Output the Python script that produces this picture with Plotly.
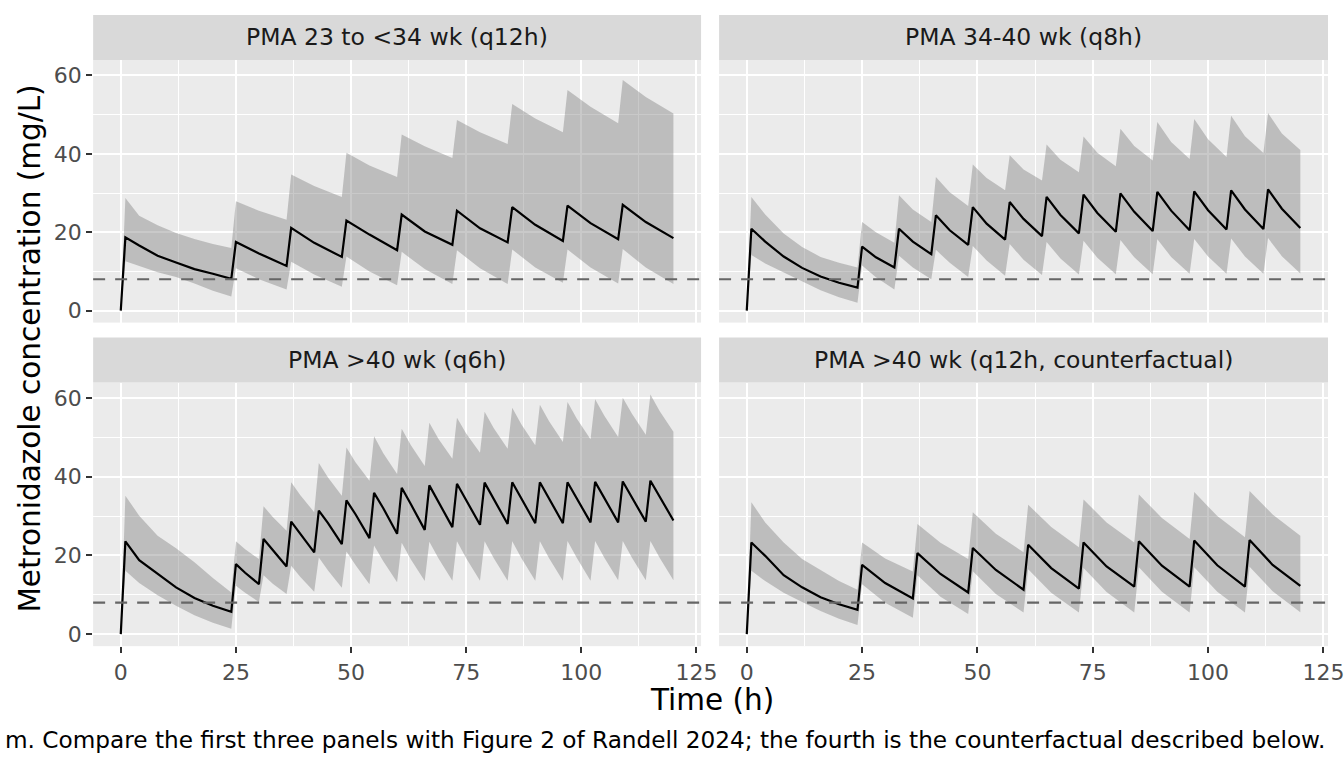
import plotly.graph_objects as go

# time grids (h) of the simulated profiles
t_q12 = [0, 1, 4, 8, 12, 16, 20, 24,
         25, 30, 36, 37, 42, 48, 49, 54, 60, 61, 66, 72,
         73, 78, 84, 85, 90, 96, 97, 102, 108, 109, 114, 120]
t_q8 = [0, 1, 4, 8, 12, 16, 20, 24,
        25, 28, 32, 33, 36, 40, 41, 44, 48, 49, 52, 56,
        57, 60, 64, 65, 68, 72, 73, 76, 80, 81, 84, 88,
        89, 92, 96, 97, 100, 104, 105, 108, 112, 113, 116, 120]
t_q6 = [0, 1, 4, 8, 12, 16, 20, 24,
        25, 27, 30, 31, 33, 36, 37, 39, 42, 43, 45, 48,
        49, 51, 54, 55, 57, 60, 61, 63, 66, 67, 69, 72,
        73, 75, 78, 79, 81, 84, 85, 87, 90, 91, 93, 96,
        97, 99, 102, 103, 105, 108, 109, 111, 114, 115, 117, 120]

# PMA 23 to <34 wk (q12h)
mid_p1 = [0, 18.7, 16.6, 14.0, 12.3, 10.6, 9.4, 8.1,
          17.5, 14.6, 11.4, 21.1, 17.3, 13.7, 23.0, 19.4, 15.4, 24.5, 20.2, 16.8,
          25.5, 21.0, 17.4, 26.4, 21.9, 17.8, 26.8, 22.3, 18.2, 27.0, 22.6, 18.5]
lo_p1 = [0, 12.6, 11.3, 9.8, 8.6, 6.9, 5.1, 3.6,
         10.8, 8.0, 5.4, 12.5, 9.2, 6.1, 13.8, 10.0, 6.5, 15.0, 10.6, 6.8,
         15.4, 10.8, 6.8, 15.6, 11.0, 7.1, 15.6, 11.0, 6.9, 15.7, 11.0, 6.8]
hi_p1 = [0, 28.7, 24.2, 21.8, 19.8, 18.3, 17.0, 16.0,
         27.9, 25.5, 23.2, 34.7, 31.8, 29.0, 40.3, 37.0, 34.1, 44.9, 41.9, 38.9,
         48.6, 45.5, 42.5, 52.7, 49.0, 45.5, 56.3, 52.0, 47.8, 58.8, 54.5, 50.3]

# PMA 34-40 wk (q8h)
mid_p2 = [0, 20.9, 17.6, 13.8, 10.9, 8.7, 7.1, 5.9,
          16.3, 13.6, 11.0, 20.9, 17.6, 14.4, 24.3, 20.5, 16.8, 26.4, 22.2, 18.1,
          27.7, 23.4, 19.0, 29.0, 24.4, 19.7, 29.6, 24.9, 20.1, 29.9, 25.2, 20.3,
          30.3, 25.5, 20.5, 30.4, 25.6, 20.7, 30.7, 25.8, 20.8, 30.9, 26.0, 21.1]
lo_p2 = [0, 14.2, 12.0, 9.6, 7.4, 5.2, 3.4, 2.0,
         11.5, 8.5, 5.4, 14.0, 11.0, 8.0, 15.5, 12.2, 8.6, 16.5, 12.8, 8.9,
         17.0, 13.0, 9.1, 17.5, 13.3, 9.2, 17.8, 13.5, 9.3, 18.0, 13.6, 9.3,
         18.2, 13.7, 9.4, 18.3, 13.8, 9.4, 18.4, 13.8, 9.4, 18.5, 13.9, 9.5]
hi_p2 = [0, 29.0, 24.5, 19.7, 16.2, 13.7, 12.2, 11.0,
         22.6, 20.0, 17.3, 29.4, 25.8, 22.6, 34.1, 30.2, 26.7, 37.3, 33.8, 30.7,
         39.6, 36.0, 33.2, 42.4, 38.5, 35.3, 44.4, 40.3, 36.8, 46.4, 42.0, 38.3,
         48.1, 43.0, 38.7, 48.9, 43.7, 39.2, 49.7, 44.5, 40.2, 50.4, 45.2, 41.0]

# PMA >40 wk (q6h)
mid_p3 = [0, 23.6, 18.8, 15.3, 11.9, 9.2, 7.2, 5.7,
          17.8, 15.6, 12.7, 24.2, 21.4, 17.2, 28.6, 25.5, 20.8, 31.4, 28.2, 22.9,
          34.0, 30.4, 24.4, 35.9, 32.0, 25.5, 37.2, 33.0, 26.5, 37.8, 33.6, 27.2,
          38.2, 34.0, 27.8, 38.5, 34.3, 28.0, 38.6, 34.4, 28.2, 38.6, 34.5, 28.2,
          38.6, 34.5, 28.4, 38.7, 34.6, 28.4, 38.8, 34.7, 28.6, 39.0, 34.9, 28.9]
lo_p3 = [0, 16.1, 13.0, 9.9, 7.2, 4.8, 2.9, 1.4,
         12.3, 10.5, 8.2, 15.0, 12.8, 10.2, 17.4, 14.5, 10.8, 19.5, 16.2, 11.8,
         21.0, 17.5, 12.7, 22.5, 18.5, 13.2, 23.2, 19.0, 13.5, 23.5, 19.2, 13.6,
         23.6, 19.3, 13.6, 23.6, 19.3, 13.6, 23.6, 19.3, 13.6, 23.6, 19.3, 13.6,
         23.7, 19.4, 13.6, 23.7, 19.4, 13.7, 23.7, 19.4, 13.7, 23.7, 19.4, 13.7]
hi_p3 = [0, 35.2, 30.1, 25.0, 21.8, 18.3, 14.3, 10.6,
         23.6, 21.6, 19.1, 32.5, 29.8, 26.3, 38.6, 35.3, 31.0, 43.5, 39.8, 35.2,
         47.4, 43.6, 39.0, 50.3, 46.0, 40.7, 52.2, 48.0, 42.7, 53.7, 49.6, 44.6,
         55.0, 51.0, 46.1, 56.5, 52.3, 47.1, 57.5, 53.3, 48.0, 58.3, 54.1, 48.8,
         59.0, 54.8, 49.5, 59.7, 55.5, 50.1, 60.1, 56.0, 50.7, 60.9, 56.7, 51.4]

# PMA >40 wk (q12h, counterfactual)
mid_p4 = [0, 23.3, 19.9, 15.0, 11.9, 9.4, 7.6, 6.2,
          17.6, 13.0, 9.1, 20.6, 15.3, 10.6, 21.9, 16.3, 11.3, 22.7, 16.8, 11.6,
          23.3, 17.2, 12.1, 23.6, 17.4, 12.1, 23.8, 17.5, 12.1, 23.9, 17.6, 12.3]
lo_p4 = [0, 16.1, 13.5, 10.5, 8.2, 5.9, 3.9, 2.3,
         12.7, 8.0, 4.2, 15.0, 9.5, 5.1, 16.0, 10.2, 5.5, 16.5, 10.5, 5.5,
         16.8, 10.7, 5.5, 17.0, 10.8, 5.5, 17.0, 10.8, 5.5, 17.1, 10.9, 5.6]
hi_p4 = [0, 33.5, 28.4, 23.3, 19.1, 16.2, 13.5, 11.3,
         23.3, 19.2, 15.9, 28.0, 23.2, 19.1, 31.0, 25.5, 20.8, 32.9, 27.2, 22.1,
         34.2, 28.4, 23.3, 35.5, 29.5, 24.2, 36.1, 30.0, 24.6, 36.4, 30.4, 25.0]

panel_titles = ["PMA 23 to <34 wk (q12h)", "PMA 34-40 wk (q8h)",
                "PMA >40 wk (q6h)", "PMA >40 wk (q12h, counterfactual)"]
threshold = 8
caption = ("m. Compare the first three panels with Figure 2 of Randell 2024; "
           "the fourth is the counterfactual described below.")

panels = [
    (t_q12, mid_p1, lo_p1, hi_p1),
    (t_q8, mid_p2, lo_p2, hi_p2),
    (t_q6, mid_p3, lo_p3, hi_p3),
    (t_q12, mid_p4, lo_p4, hi_p4),
]

W, H = 1344, 768
# the page shot comes out ~1.3% narrower than the figure, so widen x a little
SX = 1344 / 1326


def fx(px):
    return min(px * SX / W, 1.0)


# panel boxes in pixels: (left, right, top, bottom)
boxes = [(93, 700, 60, 323), (718, 1326, 60, 323),
         (93, 700, 383, 647), (718, 1326, 383, 647)]
strip_h = 45

ymax = max(max(p[3]) for p in panels)
yrange = [-0.05 * ymax, ymax * 1.05]

fig = go.Figure()

for i, (t, mid, lo, hi) in enumerate(panels):
    n = "" if i == 0 else str(i + 1)
    # ribbon as one closed polygon
    fig.add_trace(go.Scatter(x=t + t[::-1], y=hi + lo[::-1], fill="toself",
                             fillcolor="rgba(127,127,127,0.42)", line=dict(width=0),
                             mode="lines", hoverinfo="skip",
                             xaxis="x" + n, yaxis="y" + n))
    fig.add_trace(go.Scatter(x=t, y=mid, mode="lines",
                             line=dict(color="black", width=2.2),
                             xaxis="x" + n, yaxis="y" + n))

shapes = []
annotations = []
for i, (l, r, top, bot) in enumerate(boxes):
    n = "" if i == 0 else str(i + 1)
    bottom_row = i >= 2
    left_col = i % 2 == 0
    xdom = [fx(l), fx(r)]
    ydom = [1 - bot / H, 1 - top / H]
    tickfont = dict(size=22, color="#4D4D4D")
    fig.layout["xaxis" + n] = dict(
        domain=xdom, anchor="y" + n, range=[-6, 126], tick0=0, dtick=25,
        showgrid=True, gridcolor="white", gridwidth=2, zeroline=False, showline=False,
        minor=dict(dtick=12.5, tick0=0, showgrid=True, gridcolor="white", gridwidth=1),
        ticks="outside" if bottom_row else "", ticklen=6, tickwidth=2, tickcolor="#333333",
        showticklabels=bottom_row, tickfont=tickfont, ticklabeloverflow="allow")
    fig.layout["yaxis" + n] = dict(
        domain=ydom, anchor="x" + n, range=yrange, tick0=0, dtick=20,
        showgrid=True, gridcolor="white", gridwidth=2, zeroline=False, showline=False,
        minor=dict(dtick=10, tick0=0, showgrid=True, gridcolor="white", gridwidth=1),
        ticks="outside" if left_col else "", ticklen=6, tickwidth=2, tickcolor="#333333",
        showticklabels=left_col, tickfont=tickfont)
    # strip
    shapes.append(dict(type="rect", xref="paper", yref="paper",
                       x0=fx(l), x1=fx(r), y0=1 - top / H, y1=1 - (top - strip_h) / H,
                       fillcolor="#D9D9D9", line=dict(width=0), layer="below"))
    annotations.append(dict(text=panel_titles[i], xref="paper", yref="paper",
                            x=(fx(l) + fx(r)) / 2, y=1 - (top - strip_h / 2) / H,
                            showarrow=False, xanchor="center", yanchor="middle",
                            font=dict(size=23.5, color="#1A1A1A")))
    # threshold line
    shapes.append(dict(type="line", xref="x" + n + " domain", yref="y" + n,
                       x0=0, x1=1, y0=threshold, y1=threshold,
                       line=dict(color="#666666", width=2.2, dash="12px,10px")))

annotations.append(dict(text="Time (h)", xref="paper", yref="paper",
                        x=fx(710.5), y=1 - 701 / H, showarrow=False,
                        xanchor="center", yanchor="middle",
                        font=dict(size=29.5, color="black")))
annotations.append(dict(text="Metronidazole concentration (mg/L)", xref="paper", yref="paper",
                        x=fx(30), y=1 - 349 / H, showarrow=False, textangle=-90,
                        xanchor="center", yanchor="middle",
                        font=dict(size=29.5, color="black")))
annotations.append(dict(text=caption, xref="paper", yref="paper",
                        x=0.999, y=1 - 740 / H, showarrow=False,
                        xanchor="right", yanchor="middle",
                        font=dict(size=23.2, color="black")))

fig.update_layout(width=W, height=H, autosize=False, margin=dict(l=0, r=0, t=0, b=0),
                  plot_bgcolor="#EBEBEB", paper_bgcolor="white", showlegend=False,
                  font=dict(family="DejaVu Sans"), shapes=shapes, annotations=annotations)

# no page margin / scrollbars, fixed size, no modebar
post = ("document.documentElement.style.overflow='hidden';"
        "document.body.style.margin='0px';"
        "document.body.style.overflow='hidden';")
fig.write_html("out.html",
               config={"responsive": False, "displayModeBar": False},
               post_script=post)
